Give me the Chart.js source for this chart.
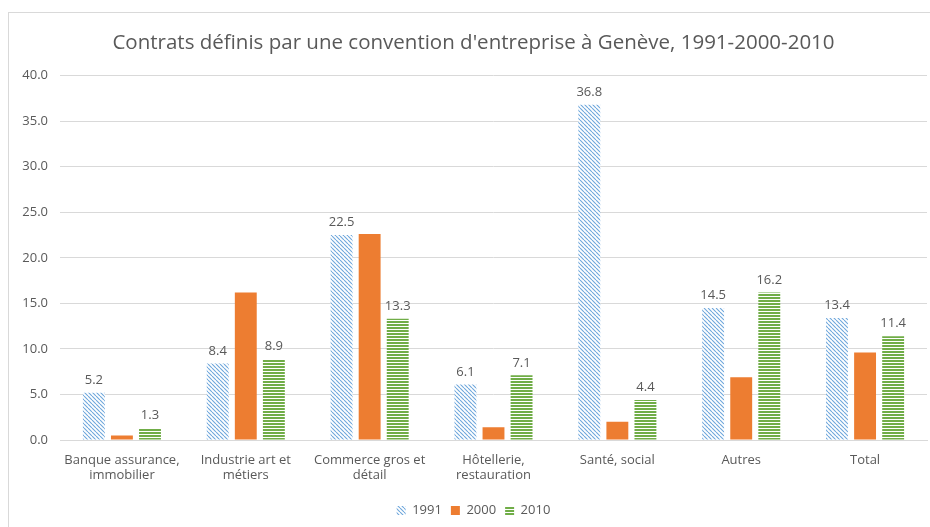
<!DOCTYPE html>
<html>
<head>
<meta charset="utf-8">
<script src="https://cdn.jsdelivr.net/npm/chart.js@4"></script>
<style>
  html, body { margin: 0; padding: 0; background: #fff; }
  #frame { position: absolute; left: 8px; top: 12px; width: 940px; height: 540px; border: 1px solid #d9d9d9; }
  #chart { position: absolute; left: 0; top: 0; }
</style>
</head>
<body>
<div id="frame"></div>
<canvas id="chart" width="930" height="527"></canvas>
<script>
// ── Data ────────────────────────────────────────────────
var categories = [
  ["Banque assurance,", "immobilier"],
  ["Industrie art et", "métiers"],
  ["Commerce gros et", "détail"],
  ["Hôtellerie,", "restauration"],
  "Santé, social",
  "Autres",
  "Total"
];
var years = ["1991", "2000", "2010"];
var values1991 = [5.2, 8.4, 22.5, 6.1, 36.8, 14.5, 13.4];
var values2000 = [0.5, 16.2, 22.6, 1.4, 2.0, 6.9, 9.6];
var values2010 = [1.3, 8.9, 13.3, 7.1, 4.4, 16.2, 11.4];
var yTicks = [0, 5, 10, 15, 20, 25, 30, 35, 40];

var FONT = "'Open Sans', sans-serif";
var TEXT = "#595959";

// ── Fill patterns (Excel-like) ───────────────────────────
function diagPattern() {
  var c = document.createElement("canvas");
  c.width = 4; c.height = 4;
  var g = c.getContext("2d");
  g.fillStyle = "#ffffff";
  g.fillRect(0, 0, 4, 4);
  g.strokeStyle = "#6FA7DC";
  g.lineWidth = 1.1;
  g.beginPath();
  for (var k = -4; k <= 4; k += 4) {
    g.moveTo(k, 0);
    g.lineTo(k + 4, 4);
  }
  g.stroke();
  return g.createPattern(c, "repeat");
}

function stripePattern() {
  var c = document.createElement("canvas");
  c.width = 4; c.height = 3;
  var g = c.getContext("2d");
  g.fillStyle = "#ffffff";
  g.fillRect(0, 0, 4, 3);
  g.fillStyle = "#70AD47";
  g.fillRect(0, 0, 4, 2);
  return g.createPattern(c, "repeat");
}

// ── Value labels on 1991 and 2010 ────────────────────────
var valueLabels = {
  id: "valueLabels",
  afterDatasetsDraw: function(chart) {
    var ctx = chart.ctx;
    ctx.save();
    ctx.font = "13px " + FONT;
    ctx.fillStyle = TEXT;
    ctx.textAlign = "center";
    ctx.textBaseline = "bottom";
    [0, 2].forEach(function(di) {
      var meta = chart.getDatasetMeta(di);
      meta.data.forEach(function(bar, i) {
        var v = chart.data.datasets[di].data[i];
        ctx.fillText(v.toFixed(1), bar.x, bar.y - 6);
      });
    });
    ctx.restore();
  }
};

new Chart(document.getElementById("chart"), {
  type: "bar",
  data: {
    labels: categories,
    datasets: [
      { label: years[0], data: values1991, backgroundColor: diagPattern() },
      { label: years[1], data: values2000, backgroundColor: "#ED7D31" },
      { label: years[2], data: values2010, backgroundColor: stripePattern() }
    ]
  },
  options: {
    responsive: false,
    animation: false,
    devicePixelRatio: 1,
    categoryPercentage: 0.68,
    barPercentage: 0.78,
    layout: { padding: { left: 20, right: 3, top: 10, bottom: 0 } },
    plugins: {
      title: {
        display: true,
        text: "Contrats définis par une convention d'entreprise à Genève, 1991-2000-2010",
        color: TEXT,
        font: { family: FONT, size: 20.5, weight: "normal" },
        padding: { top: 21, bottom: 20 }
      },
      legend: {
        position: "bottom",
        labels: {
          color: TEXT,
          font: { family: FONT, size: 13 },
          boxWidth: 9,
          boxHeight: 9,
          padding: 9
        }
      },
      tooltip: { enabled: false }
    },
    scales: {
      x: {
        grid: { display: false },
        border: { color: "#d9d9d9" },
        afterFit: function(scale) { scale.height = 55; },
        ticks: { color: TEXT, font: { family: FONT, size: 13 }, maxRotation: 0, padding: 4 }
      },
      y: {
        min: 0,
        max: 40,
        afterBuildTicks: function(scale) {
          scale.ticks = yTicks.map(function(v) { return { value: v }; });
        },
        afterFit: function(scale) { scale.width = 40; },
        grid: { color: "#d9d9d9", drawTicks: false },
        border: { display: false },
        ticks: {
          color: TEXT,
          font: { family: FONT, size: 13 },
          padding: 12,
          callback: function(v) { return Number(v).toFixed(1); }
        }
      }
    }
  },
  plugins: [valueLabels]
});
</script>
</body>
</html>
